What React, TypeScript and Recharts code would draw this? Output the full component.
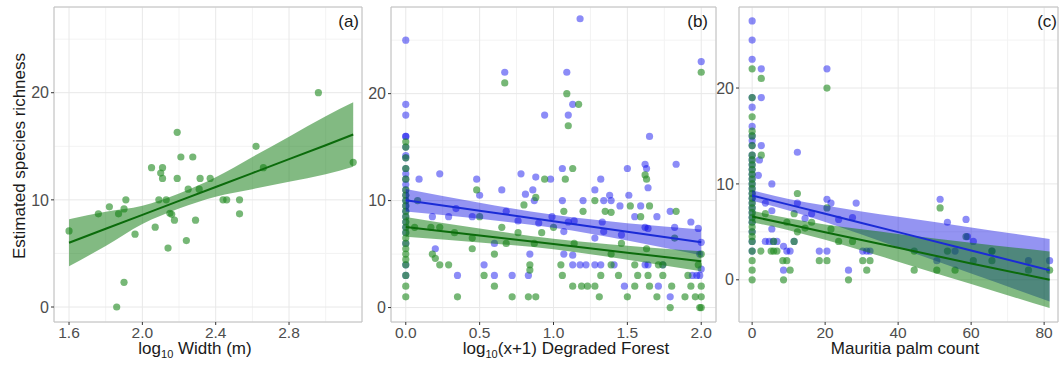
import React from 'react';
import { ComposedChart, Scatter, Line, Area, XAxis, YAxis, CartesianGrid, ReferenceArea } from 'recharts';

type Pt = [number, number];

const FONT = '"Liberation Sans", Arial, Helvetica, sans-serif';
const BLUE = '#0000ee';
const GREEN = '#228b22';

// (a) channel width vs richness
const widthPts: Pt[] = [
  [1.6, 7.1], [1.76, 8.7], [1.82, 9.35], [1.87, 8.7], [1.9, 9.15], [1.91, 10], [1.96, 6.8],
  [1.9, 2.3], [1.86, 0], [2.05, 13], [2.11, 13], [2.1, 12.5], [2.11, 12], [2.07, 7.45],
  [2.09, 10], [2.13, 10], [2.14, 5.5], [2.15, 8.75], [2.16, 8.65], [2.175, 8.1], [2.19, 16.3],
  [2.19, 12], [2.21, 14], [2.275, 14], [2.25, 11], [2.24, 6.2], [2.29, 8.1], [2.31, 11],
  [2.315, 12], [2.37, 12], [2.44, 10], [2.46, 10], [2.53, 10], [2.53, 8.7], [2.62, 15],
  [2.66, 13], [2.96, 20], [3.15, 13.5],
];
const widthFitX = [1.6, 1.8, 2.0, 2.2, 2.4, 2.6, 2.8, 3.0, 3.15];
const widthFit = [6.0, 7.3, 8.6, 9.9, 11.2, 12.5, 13.8, 15.1, 16.1];
const widthLo = [3.8, 5.7, 7.75, 9.2, 10.3, 11.0, 11.7, 12.4, 13.1];
const widthHi = [8.2, 8.9, 9.45, 10.6, 12.1, 14.0, 15.9, 17.8, 19.1];

// (b) degraded forest
const forestBlueAtZero = [25, 19, 18, 16, 16, 15, 14.2, 14, 13, 12.5, 12, 11.5, 11, 10.5, 10, 9.5, 9, 8.5, 8, 7.5, 7, 6, 4, 3];
const forestGreenAtZero = [15.5, 15, 14, 13, 12, 11, 10.5, 10, 9.5, 9, 8.5, 8, 7.5, 7, 6.5, 6, 5.5, 5, 4.5, 4, 3, 2, 1];
const forestBlue: Pt[] = [
  [0.09, 12], [0.18, 8.5], [0.2, 5.5], [0.23, 12.5], [0.29, 8.5], [0.34, 9.25], [0.35, 3], [0.45, 8.5],
  [0.48, 12], [0.5, 10.5], [0.53, 4], [0.6, 3], [0.6, 6], [0.65, 11], [0.67, 22], [0.68, 9], [0.72, 3],
  [0.76, 8.1], [0.78, 12.5], [0.81, 10.6], [0.84, 5], [0.83, 3], [0.86, 11], [0.87, 10], [0.88, 12.2],
  [0.94, 18], [0.9, 7.9], [0.98, 12], [0.99, 8.5], [1.06, 10], [1.06, 13], [1.07, 5], [1.07, 7.1],
  [1.09, 22], [1.1, 18], [1.13, 19], [1.18, 27], [1.13, 4.9], [1.13, 4], [1.1, 8], [1.14, 8.1],
  [1.18, 4], [1.22, 4], [1.28, 4], [1.32, 4], [1.2, 10], [1.28, 11], [1.28, 6.5], [1.32, 12], [1.34, 10],
  [1.33, 8], [1.34, 7.1], [1.38, 10.5], [1.39, 10], [1.41, 4], [1.45, 9.5], [1.46, 6.8], [1.48, 2],
  [1.5, 13], [1.51, 10.5], [1.55, 8.5], [1.59, 9.5], [1.62, 13.4], [1.63, 13], [1.64, 11.2], [1.65, 16],
  [1.62, 7.5], [1.64, 7.4], [1.62, 4], [1.64, 4], [1.7, 8.5], [1.71, 2], [1.74, 4], [1.79, 9], [1.79, 1],
  [1.82, 7.5], [1.83, 13.4], [1.93, 8], [1.98, 7.4], [1.99, 5], [2.0, 23], [1.97, 3], [1.99, 3],
  [1.94, 3], [2.0, 6.1], [2.0, 3.6],
];
const forestGreen: Pt[] = [
  [0.06, 7.5], [0.08, 10], [0.18, 5], [0.2, 4.6], [0.23, 4], [0.29, 4], [0.23, 7.5], [0.17, 7.5],
  [0.33, 7], [0.35, 1], [0.45, 6.5], [0.45, 5.5], [0.48, 11], [0.5, 8.5], [0.53, 3], [0.6, 2], [0.6, 5],
  [0.65, 7.5], [0.67, 21], [0.68, 6], [0.72, 1], [0.76, 7], [0.8, 9.6], [0.84, 4], [0.84, 3.5], [0.83, 1],
  [0.88, 1], [0.88, 10.3], [0.87, 6], [0.94, 12], [0.92, 7], [1.0, 7.5], [1.06, 3], [1.07, 9], [1.05, 4],
  [1.08, 12], [1.09, 20], [1.1, 17], [1.13, 13], [1.17, 19], [1.14, 6], [1.13, 2], [1.19, 2], [1.23, 2],
  [1.28, 2], [1.2, 9], [1.28, 10], [1.31, 1], [1.32, 3], [1.35, 9], [1.39, 8.9], [1.39, 4], [1.39, 5],
  [1.44, 3], [1.46, 6], [1.5, 1], [1.52, 9.5], [1.55, 2], [1.55, 4], [1.57, 3], [1.59, 8.5], [1.62, 12.4],
  [1.63, 12], [1.65, 9.5], [1.63, 5.5], [1.64, 3], [1.65, 2], [1.7, 1], [1.71, 4], [1.74, 4], [1.74, 3],
  [1.79, 0], [1.8, 2], [1.83, 9], [1.82, 6.5], [1.89, 1], [1.91, 3], [1.93, 2], [1.96, 1], [1.99, 0],
  [2.0, 0], [2.0, 22], [2.0, 5], [2.0, 1], [1.98, 4], [2.0, 2],
];
const forestFitX = [0, 0.5, 1, 1.5, 2];
const forestBlueFit = [10.03, 9.05, 8.07, 7.08, 6.1];
const forestBlueLo = [8.98, 8.3, 7.47, 6.28, 4.9];
const forestBlueHi = [11.08, 9.8, 8.67, 7.88, 7.3];
const forestGreenFit = [7.54, 6.74, 5.94, 5.13, 4.33];
const forestGreenLo = [6.61, 6.09, 5.44, 4.48, 3.4];
const forestGreenHi = [8.47, 7.39, 6.44, 5.78, 5.26];

// (c) Mauritia palm count
const palmBlueAtZero = [27, 25, 23, 19, 18, 16, 15, 14.5, 14, 13, 12.5, 12, 11.5, 11, 10.5, 10, 9.5, 9, 8.5, 8, 7.5, 7, 6.5, 6, 5, 4, 3];
const palmGreenAtZero = [22, 19, 17, 15.5, 15, 14, 13, 12.5, 12, 11.5, 11, 10.5, 10, 9.5, 9, 8.5, 8, 7.5, 7, 6.5, 6, 5.5, 5, 4.5, 4, 3, 2, 1, 0];
const palmBlue: Pt[] = [
  [2.5, 22], [2.5, 19], [2.5, 14], [2, 12.5], [1.7, 10.9], [3.6, 8], [5.4, 10], [5.4, 7.2], [5.4, 5.3],
  [3.6, 4], [4.7, 4], [5.8, 4], [6.8, 4], [8.6, 3.5], [8.6, 1], [9.5, 3], [10.4, 3], [12.4, 13.3], [12.4, 8],
  [11.5, 4], [14.5, 6.4], [16.3, 6.9], [18.4, 3], [20.5, 22], [20.5, 8.4], [20.5, 3], [21.6, 8], [23.7, 6.3],
  [26.4, 1], [27.5, 6.5], [28.5, 8], [30.3, 3], [31.4, 3], [32.3, 3], [50.6, 2], [51.5, 8.4], [53.5, 6],
  [55.6, 3], [58.6, 6.3], [59, 4.5], [60.6, 4], [65.7, 3], [75.7, 2], [81.5, 2],
];
const palmGreen: Pt[] = [
  [2.5, 21], [2.5, 13], [2.4, 3], [3.6, 6.9], [5.2, 3], [5.9, 3], [5.9, 4], [6.8, 3], [8.4, 2], [8.6, 0],
  [9.5, 2], [10.4, 1], [9.5, 6], [11.5, 4], [11.5, 6.9], [12.4, 9], [12.4, 5], [14.5, 5.4], [16.3, 6],
  [18.4, 2], [20.5, 20], [20.5, 7.5], [20.5, 2], [21.6, 5.3], [23.7, 4], [26.4, 0], [27.5, 4], [30.3, 2],
  [31.4, 1], [32.3, 2], [44.4, 3], [44.4, 1], [50.6, 1], [51.5, 7.5], [53.5, 3], [55.6, 1], [58.6, 4.5],
  [60.6, 2], [65.7, 3], [65.7, 2], [75.7, 1], [81.5, 1],
];
const palmFitX = [0, 10, 20, 30, 40, 60, 81.5];
const palmBlueFit = [8.8, 7.84, 6.89, 5.93, 4.97, 3.06, 1.0];
const palmBlueLo = [8.25, 7.24, 6.04, 4.73, 3.37, 0.66, -2.25];
const palmBlueHi = [9.35, 8.44, 7.74, 7.13, 6.57, 5.46, 4.25];
const palmGreenFit = [6.6, 5.79, 4.97, 4.16, 3.34, 1.71, 0.0];
const palmGreenLo = [6.0, 5.17, 4.17, 3.06, 1.89, -0.44, -2.95];
const palmGreenHi = [7.2, 6.41, 5.77, 5.26, 4.79, 3.86, 2.95];

const yMajor = [0, 10, 20];
const yMinor = [5, 15, 25];

const toPts = (pairs: Pt[]) => pairs.map(([x, y]) => ({ x, y }));
const column = (vals: number[]) => vals.map((y) => ({ x: 0, y }));

const dot = (color: string, op: number) => (p: any) =>
  <circle cx={p.cx} cy={p.cy} r={3.6} fill={color} fillOpacity={op} />;

const scaleOf = (axis: any) => (v: number) => {
  const s = axis?.scale;
  return typeof s === 'function' ? s(v) : s?.map ? s.map(v) : 0;
};

type Fit = { key: string; color: string; line: string; op: number };

const Panel = ({ left, width, yW, right, xDomain, yDomain, xMajor, xMinor, fmt, groups, rows, fits }: any) => (
  <div style={{ position: 'absolute', left, top: 0 }}>
    <ComposedChart width={width} height={372} data={rows} margin={{ top: 7, right, bottom: 0, left: 0 }}>
      <CartesianGrid stroke="#f3f3f3"
        horizontalCoordinatesGenerator={({ yAxis }: any) => yMinor.map(scaleOf(yAxis))}
        verticalCoordinatesGenerator={({ xAxis }: any) => xMinor.map(scaleOf(xAxis))} />
      <CartesianGrid stroke="#e8e8e8" />
      <XAxis type="number" dataKey="x" domain={xDomain} allowDataOverflow ticks={xMajor} interval={0}
        tickFormatter={fmt} tickSize={3} tickMargin={2} axisLine={false} tickLine={{ stroke: '#333' }}
        tick={{ fill: '#4d4d4d', fontSize: 15.5, fontFamily: FONT }} height={50} />
      <YAxis type="number" dataKey="y" domain={yDomain} allowDataOverflow ticks={yMajor} interval={0}
        width={yW} tickSize={3} tickMargin={2} axisLine={false} tickLine={{ stroke: '#333' }}
        tick={{ fill: '#4d4d4d', fontSize: 16, fontFamily: FONT }} />
      {groups.map((g: any) => (
        <Scatter key={g.name} name={g.name} data={g.pts} shape={dot(g.color, g.op)} zIndex={50} isAnimationActive={false} />
      ))}
      {fits.map((f: Fit) => (
        <Area key={f.key + 'band'} type="monotone" dataKey={(d: any) => [d[f.key + 'Lo'], d[f.key + 'Hi']]}
          stroke="none" fill={f.color} fillOpacity={f.op} dot={false} activeDot={false} isAnimationActive={false} />
      ))}
      {fits.map((f: Fit) => (
        <Line key={f.key + 'fit'} type="linear" dataKey={f.key + 'Fit'} stroke={f.line} strokeWidth={2}
          dot={false} activeDot={false} isAnimationActive={false} />
      ))}
      <ReferenceArea x1={xDomain[0]} x2={xDomain[1]} y1={yDomain[0]} y2={yDomain[1]} fill="none" stroke="#c2c2c2" />
    </ComposedChart>
  </div>
);

const widthRows = widthFitX.map((x, i) => ({ x, gFit: widthFit[i], gLo: widthLo[i], gHi: widthHi[i] }));
const forestRows = forestFitX.map((x, i) => ({
  x, bFit: forestBlueFit[i], bLo: forestBlueLo[i], bHi: forestBlueHi[i],
  gFit: forestGreenFit[i], gLo: forestGreenLo[i], gHi: forestGreenHi[i],
}));
const palmRows = palmFitX.map((x, i) => ({
  x, bFit: palmBlueFit[i], bLo: palmBlueLo[i], bHi: palmBlueHi[i],
  gFit: palmGreenFit[i], gLo: palmGreenLo[i], gHi: palmGreenHi[i],
}));

const blueFit: Fit = { key: 'b', color: '#0000e0', line: '#1a2bd6', op: 0.42 };
const greenFit: Fit = { key: 'g', color: '#0f7a0f', line: '#0b6b0b', op: 0.52 };

const txt = { fontFamily: FONT, fontSize: 17, fill: '#1a1a1a' };

export default function App() {
  return (
    <div style={{ position: 'absolute', left: 0, top: 0, width: 1060, height: 372, background: '#fff' }}>
      <Panel left={0} width={365} yW={54} right={3} xDomain={[1.518, 3.198]} yDomain={[-1.4, 28]}
        xMajor={[1.6, 2.0, 2.4, 2.8]} xMinor={[1.8, 2.2, 2.6, 3.0]} fmt={(v: number) => v.toFixed(1)}
        groups={[{ name: 'width', pts: toPts(widthPts), color: GREEN, op: 0.62 }]}
        rows={widthRows} fits={[greenFit]} />
      <Panel left={358} width={362} yW={33} right={4} xDomain={[-0.1, 2.1]} yDomain={[-1.35, 28.1]}
        xMajor={[0, 0.5, 1, 1.5, 2]} xMinor={[0.25, 0.75, 1.25, 1.75]} fmt={(v: number) => v.toFixed(1)}
        groups={[
          { name: 'fb0', pts: column(forestBlueAtZero), color: BLUE, op: 0.45 },
          { name: 'fb', pts: toPts(forestBlue), color: BLUE, op: 0.45 },
          { name: 'fg0', pts: column(forestGreenAtZero), color: GREEN, op: 0.62 },
          { name: 'fg', pts: toPts(forestGreen), color: GREEN, op: 0.62 },
        ]}
        rows={forestRows} fits={[blueFit, greenFit]} />
      <Panel left={703} width={357} yW={36} right={2} xDomain={[-3.6, 83.8]} yDomain={[-4.4, 28.45]}
        xMajor={[0, 20, 40, 60, 80]} xMinor={[10, 30, 50, 70]} fmt={(v: number) => String(v)}
        groups={[
          { name: 'pb0', pts: column(palmBlueAtZero), color: BLUE, op: 0.45 },
          { name: 'pb', pts: toPts(palmBlue), color: BLUE, op: 0.45 },
          { name: 'pg0', pts: column(palmGreenAtZero), color: GREEN, op: 0.62 },
          { name: 'pg', pts: toPts(palmGreen), color: GREEN, op: 0.62 },
        ]}
        rows={palmRows} fits={[blueFit, greenFit]} />
      <svg width={1060} height={372} style={{ position: 'absolute', left: 0, top: 0, pointerEvents: 'none' }}>
        <text {...txt} transform="translate(25,156) rotate(-90)" textAnchor="middle">Estimated species richness</text>
        <text {...txt} x={195} y={354} textAnchor="middle">
          log<tspan fontSize={11} dy={4}>10</tspan><tspan dy={-4}> Width (m)</tspan>
        </text>
        <text {...txt} x={566} y={354} textAnchor="middle">
          log<tspan fontSize={11} dy={4}>10</tspan><tspan dy={-4}>(x+1) Degraded Forest</tspan>
        </text>
        <text {...txt} x={905} y={354} textAnchor="middle">Mauritia palm count</text>
        <text {...txt} x={359} y={27} textAnchor="end">(a)</text>
        <text {...txt} x={708} y={27} textAnchor="end">(b)</text>
        <text {...txt} x={1057} y={27} textAnchor="end">(c)</text>
      </svg>
    </div>
  );
}
